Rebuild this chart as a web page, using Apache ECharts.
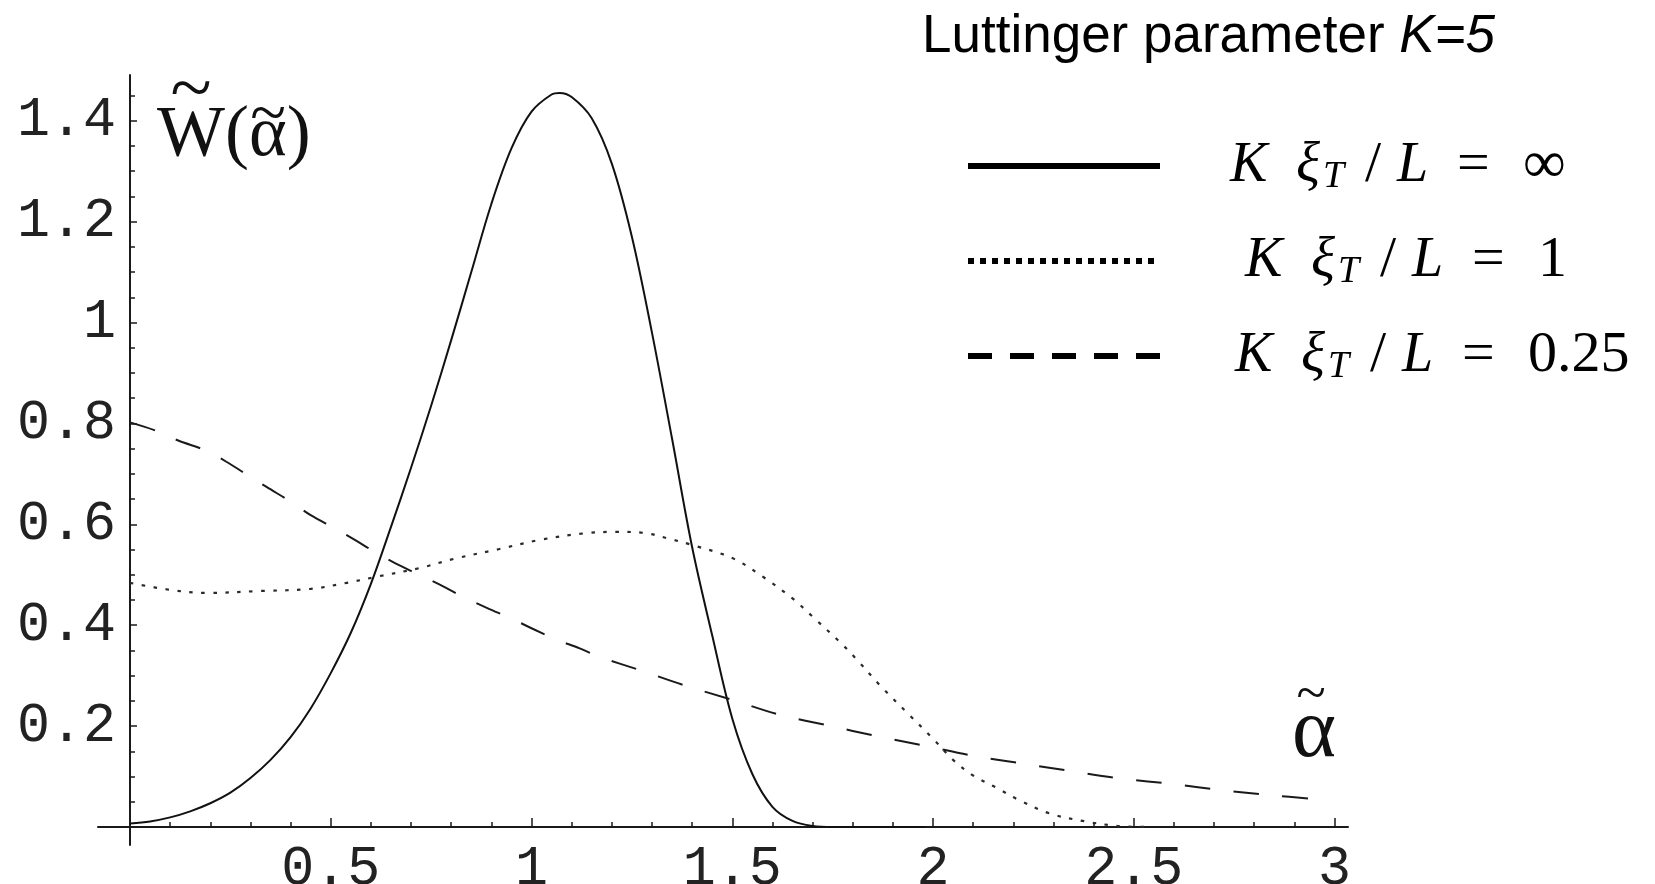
<!DOCTYPE html>
<html><head><meta charset="utf-8">
<script src="https://cdn.jsdelivr.net/npm/echarts@6/dist/echarts.min.js"></script>
<style>html,body{margin:0;padding:0;background:#fff}#c{width:1655px;height:884px}</style>
</head><body><div id="c"></div>
<script>
// ---- data ----
const seriesNames = ['K ξT/L = ∞', 'K ξT/L = 1', 'K ξT/L = 0.25'];
const legendValues = ['∞', '1', '0.25'];

const solidData = [
  [0,0.007],[0.05,0.011],[0.10,0.019],[0.15,0.031],[0.20,0.047],[0.25,0.068],[0.30,0.097],
  [0.35,0.133],[0.40,0.178],[0.45,0.235],[0.50,0.305],[0.55,0.385],[0.60,0.482],[0.65,0.595],
  [0.70,0.712],[0.75,0.835],[0.80,0.965],[0.85,1.10],[0.90,1.235],[0.95,1.345],[1.00,1.418],
  [1.05,1.452],[1.07,1.455],[1.10,1.447],[1.15,1.405],[1.20,1.315],[1.25,1.17],[1.30,0.98],
  [1.35,0.77],[1.40,0.555],[1.45,0.38],[1.50,0.215],[1.55,0.105],[1.60,0.04],[1.65,0.012],
  [1.70,0.002],[1.75,0],[1.98,0]
];
const dottedData = [
  [0,0.484],[0.10,0.47],[0.19,0.464],[0.33,0.468],[0.45,0.472],[0.54,0.484],[0.62,0.497],
  [0.72,0.513],[0.81,0.532],[0.92,0.551],[1.02,0.569],[1.13,0.582],[1.21,0.585],[1.28,0.583],
  [1.34,0.572],[1.40,0.559],[1.50,0.533],[1.58,0.494],[1.65,0.453],[1.70,0.417],[1.77,0.365],
  [1.81,0.332],[1.87,0.279],[1.94,0.223],[2.00,0.175],[2.05,0.133],[2.10,0.102],[2.16,0.077],
  [2.21,0.055],[2.29,0.027],[2.38,0.011],[2.46,0.002],[2.53,0]
];
const dashedData = [
  [0,0.802],[0.07,0.784],[0.12,0.766],[0.19,0.746],[0.24,0.724],[0.29,0.699],[0.34,0.674],
  [0.40,0.645],[0.45,0.618],[0.51,0.592],[0.56,0.569],[0.61,0.545],[0.66,0.523],[0.72,0.50],
  [0.78,0.477],[0.83,0.456],[0.89,0.434],[0.95,0.413],[1.00,0.394],[1.06,0.372],[1.12,0.354],
  [1.17,0.337],[1.27,0.311],[1.38,0.281],[1.50,0.252],[1.62,0.222],[1.74,0.201],[1.86,0.18],
  [1.98,0.161],[2.10,0.141],[2.22,0.126],[2.35,0.11],[2.47,0.096],[2.60,0.085],[2.72,0.073],
  [2.84,0.063],[2.96,0.055]
];

const xMajorTicks = [0.5, 1, 1.5, 2, 2.5, 3];
const xMinorTicks = [0.1,0.2,0.3,0.4,0.6,0.7,0.8,0.9,1.1,1.2,1.3,1.4,1.6,1.7,1.8,1.9,
                     2.1,2.2,2.3,2.4,2.6,2.7,2.8,2.9];
const yMajorTicks = [0.2, 0.4, 0.6, 0.8, 1, 1.2, 1.4];
const yMinorTicks = [0.05,0.1,0.15,0.25,0.3,0.35,0.45,0.5,0.55,0.65,0.7,0.75,0.85,0.9,0.95,
                     1.05,1.1,1.15,1.25,1.3,1.35,1.45];

const titleMain = 'Luttinger parameter ';
const titleItalic = 'K=5';
const yName = 'W(α)';
const xName = 'α';
const tildeChar = '~';

// ---- layout ----
const X_MIN = -0.0797, X_MAX = 3.0336;
const Y_MIN = -0.0357, Y_MAX = 1.4906;
const axisColor = '#1a1a1a';
const labelFont = {fontFamily: 'Liberation Mono', fontSize: 55, color: '#222'};
const serif = 'Liberation Serif';

const chart = echarts.init(document.getElementById('c'), null, {renderer: 'canvas'});

function xAxisCfg(major) {
  return {
    type: 'value', min: X_MIN, max: X_MAX, position: 'bottom',
    axisLine: {show: major, onZero: true, lineStyle: {color: axisColor, width: 2}},
    axisTick: {show: true, inside: true, length: major ? 9 : 5,
               customValues: major ? xMajorTicks : xMinorTicks,
               lineStyle: {color: axisColor, width: 1.5}},
    axisLabel: major ? Object.assign({show: true, customValues: xMajorTicks, margin: -3,
               formatter: v => String(v)}, labelFont) : {show: false},
    splitLine: {show: false},
    name: major ? xName : '', nameLocation: 'end', nameGap: -12,
    nameTextStyle: {fontFamily: serif, fontSize: 84, color: '#111', align: 'right',
                    verticalAlign: 'bottom', padding: [0, 0, 51, 0]}
  };
}
function yAxisCfg(major) {
  return {
    type: 'value', min: Y_MIN, max: Y_MAX, position: 'left',
    axisLine: {show: major, onZero: true, lineStyle: {color: axisColor, width: 2}},
    axisTick: {show: true, inside: true, length: major ? 7 : 5,
               customValues: major ? yMajorTicks : yMinorTicks,
               lineStyle: {color: axisColor, width: 1.5}},
    axisLabel: major ? Object.assign({show: true, customValues: yMajorTicks, margin: -18,
               formatter: v => String(v)}, labelFont) : {show: false},
    splitLine: {show: false},
    name: major ? yName : '', nameLocation: 'end', nameGap: -25,
    nameTextStyle: {fontFamily: serif, fontSize: 72, color: '#111', align: 'left',
                    verticalAlign: 'top', padding: [0, 0, 0, 27]}
  };
}

function tilde(x, y, size) {
  return {
    type: 'text', x: x, y: y, silent: true, z: 10,
    style: {text: tildeChar, fontFamily: serif, fontSize: size, fill: '#111',
            align: 'center', textAlign: 'center', verticalAlign: 'middle', textVerticalAlign: 'middle'}
  };
}

const legendRich = {
  s0: {width: 65}, s1: {width: 80}, s2: {width: 70},
  k:  {fontFamily: serif, fontStyle: 'italic', fontSize: 56, width: 66, lineHeight: 60, color: '#000'},
  xi: {fontFamily: serif, fontStyle: 'italic', fontSize: 56, width: 27, lineHeight: 60, color: '#000'},
  t:  {fontFamily: serif, fontStyle: 'italic', fontSize: 38, width: 42, lineHeight: 30,
       verticalAlign: 'bottom', color: '#000'},
  sl: {fontFamily: serif, fontSize: 58, width: 32, lineHeight: 60, color: '#000'},
  l:  {fontFamily: serif, fontStyle: 'italic', fontSize: 56, width: 60, lineHeight: 60, color: '#000'},
  eq: {fontFamily: serif, fontSize: 58, width: 66, lineHeight: 60, color: '#000'},
  v:  {fontFamily: serif, fontSize: 58, lineHeight: 60, color: '#000'},
  vi: {fontFamily: serif, fontSize: 60, lineHeight: 60, color: '#000'}
};

const option = {
  animation: false,
  backgroundColor: '#fff',
  title: {
    text: '{n|' + titleMain + '}{i|' + titleItalic + '}',
    left: 922, top: 11, padding: 0,
    textStyle: {fontWeight: 'normal', rich: {
      n: {fontFamily: 'Liberation Sans', fontWeight: 'normal', fontSize: 53, lineHeight: 53, color: '#000'},
      i: {fontFamily: 'Liberation Sans', fontWeight: 'normal', fontSize: 53, lineHeight: 53, color: '#000', fontStyle: 'italic'}
    }}
  },
  legend: {
    orient: 'vertical', left: 965, top: 136, padding: 0,
    itemWidth: 192, itemHeight: 60, itemGap: 36, selectedMode: false,
    itemStyle: {opacity: 0},
    data: [
      {name: seriesNames[0], lineStyle: {width: 6, color: '#000', type: 'solid'}},
      {name: seriesNames[1], lineStyle: {width: 6, color: '#000', type: [6, 6]}},
      {name: seriesNames[2], lineStyle: {width: 6, color: '#000', type: [24, 18]}}
    ],
    formatter: function (name) {
      const i = seriesNames.indexOf(name);
      const vs = i === 0 ? 'vi' : 'v';
      return '{s' + i + '| }{k|K}{xi|ξ}{t|T}{sl|/}{l|L}{eq|=}{' + vs + '|' + legendValues[i] + '}';
    },
    textStyle: {rich: legendRich}
  },
  graphic: [tilde(191, 93, 76), tilde(268, 117, 66), tilde(1311, 697, 54)],
  grid: {left: 98, top: 75, width: 1250, height: 770, containLabel: false, outerBoundsMode: 'none'},
  xAxis: [xAxisCfg(true), xAxisCfg(false)],
  yAxis: [yAxisCfg(true), yAxisCfg(false)],
  series: [
    {name: seriesNames[0], type: 'line', data: solidData, symbol: 'none', smooth: 0.35,
     lineStyle: {color: '#111', width: 2}, itemStyle: {color: '#111'}},
    {name: seriesNames[1], type: 'line', data: dottedData, symbol: 'none', smooth: 0.35,
     lineStyle: {color: '#2a2a2a', width: 2.2, type: [3.5, 8.5]}, itemStyle: {color: '#2a2a2a'}},
    {name: seriesNames[2], type: 'line', data: dashedData, symbol: 'none', smooth: 0.35,
     lineStyle: {color: '#1a1a1a', width: 2, type: [26, 23]}, itemStyle: {color: '#1a1a1a'}}
  ]
};
chart.setOption(option);
</script>
</body></html>
